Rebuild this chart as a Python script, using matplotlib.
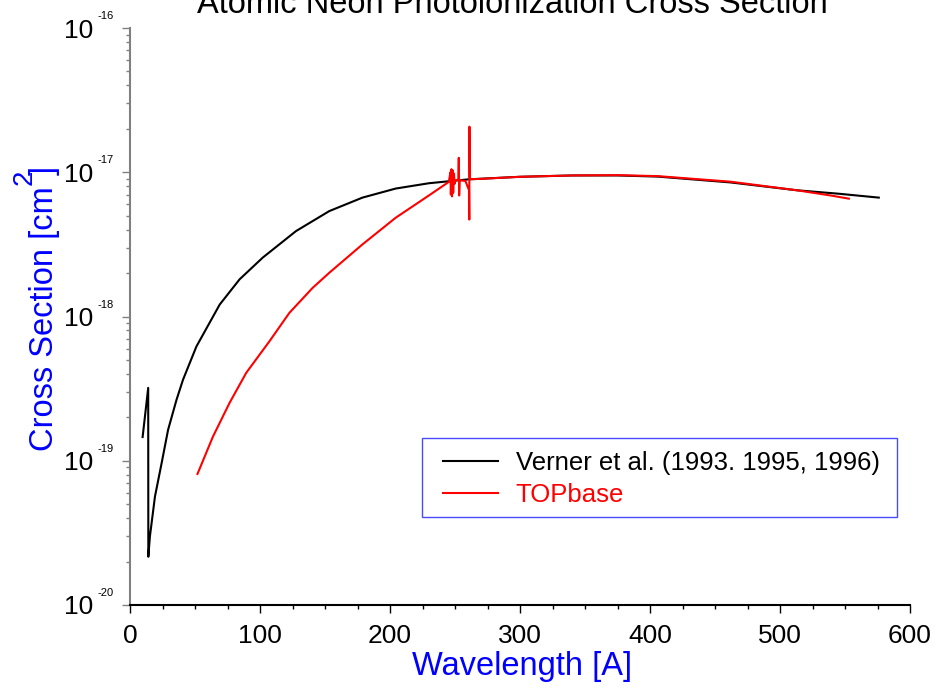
import numpy as np
import matplotlib
matplotlib.use("Agg")
import matplotlib.pyplot as plt
from matplotlib.patches import Rectangle
from matplotlib.ticker import LogLocator, MultipleLocator, NullFormatter

plt.rcParams['font.family'] = ['Liberation Sans', 'DejaVu Sans']

# Verner et al. curve (wavelength in A, cross section in cm^2)
verner_wl = [9.7, 14.0, 14.1, 15.3, 19.2, 24.3, 29.3, 35.8, 40.8, 51.1, 69.0, 84.3,
             102.1, 127.7, 153.3, 178.8, 204.4, 229.9, 245.2, 260.5, 300, 340,
             375, 406, 462, 513, 545, 576]
verner_sigma = [1.46e-19, 3.2e-19, 2.16e-20, 2.98e-20, 5.65e-20, 9.6e-20, 1.64e-19,
                2.65e-19, 3.65e-19, 6.2e-19, 1.21e-18, 1.81e-18, 2.56e-18, 3.91e-18,
                5.38e-18, 6.67e-18, 7.71e-18, 8.39e-18, 8.66e-18, 8.93e-18, 9.3e-18,
                9.5e-18, 9.5e-18, 9.33e-18, 8.5e-18, 7.5e-18, 7.1e-18, 6.67e-18]

# TOPbase curve
top_wl = [51.9, 63.8, 76.6, 89.4, 107.3, 122.6, 140.5, 153.3, 178.8, 204.4,
          229.9, 245.2, 246.5, 246.8, 247.3, 247.7, 248.2, 248.6, 249.2, 249.7,
          250.5, 252.6, 252.9, 253.2, 253.6, 258, 260.8, 261.0, 261.1, 261.4, 262,
          270, 300, 340, 375, 406, 462, 513, 539, 553]
top_sigma = [8.1e-20, 1.47e-19, 2.52e-19, 4.07e-19, 6.74e-19, 1.06e-18, 1.58e-18,
             2.01e-18, 3.16e-18, 4.84e-18, 6.9e-18, 8.57e-18, 1.0e-17,
             7.0e-18, 1.05e-17, 6.8e-18, 1.03e-17, 7.2e-18, 9.8e-18, 8.3e-18, 8.8e-18,
             8.9e-18, 1.26e-17, 6.9e-18, 8.8e-18, 8.7e-18, 7.5e-18, 4.7e-18, 2.07e-17,
             9.2e-18, 8.95e-18, 9.0e-18, 9.3e-18, 9.5e-18, 9.55e-18, 9.4e-18, 8.6e-18,
             7.5e-18, 6.9e-18, 6.56e-18]

exponents = [-20, -19, -18, -17, -16]
x_ticks = [0, 100, 200, 300, 400, 500, 600]

W, H = 942.0, 692.0
fig = plt.figure(figsize=(W / 100, H / 100), dpi=100)
ax = fig.add_axes([130 / W, 1 - 605 / H, 780 / W, 577 / H])

ax.plot(verner_wl, verner_sigma, color='black', lw=1.5,
        label='Verner et al. (1993. 1995, 1996)')
ax.plot(top_wl, top_sigma, color='red', lw=1.5, label='TOPbase')

ax.set_yscale('log')
ax.set_xlim(0, 600)
ax.set_ylim(1e-20, 1e-16)

for s in ['top', 'right']:
    ax.spines[s].set_visible(False)
ax.spines['left'].set_color('#808080')
ax.spines['left'].set_linewidth(1.5)
ax.spines['bottom'].set_linewidth(1.5)

ax.set_xticks(x_ticks)
ax.xaxis.set_minor_locator(MultipleLocator(25))
ax.tick_params(axis='x', which='major', direction='out', length=6, width=1,
               labelsize=19, pad=8)
ax.tick_params(axis='x', which='minor', direction='out', length=3, width=1)

ax.yaxis.set_major_locator(LogLocator(base=10, numticks=10))
ax.yaxis.set_minor_locator(LogLocator(base=10, subs=np.arange(2, 10), numticks=10))
ax.yaxis.set_major_formatter(NullFormatter())
ax.yaxis.set_minor_formatter(NullFormatter())
ax.tick_params(axis='y', which='major', direction='out', length=6, width=1,
               color='#808080')
ax.tick_params(axis='y', which='minor', direction='out', length=3, width=1,
               color='#808080')

# power-of-ten labels with a small raised exponent
for e in exponents:
    ax.annotate('10', xy=(0, 10.0 ** e), xycoords=('axes fraction', 'data'),
                xytext=(-37, -9.5), textcoords='offset pixels',
                ha='right', va='baseline', fontsize=19, annotation_clip=False)
    ax.annotate(str(e), xy=(0, 10.0 ** e), xycoords=('axes fraction', 'data'),
                xytext=(-33, 9), textcoords='offset pixels',
                ha='left', va='baseline', fontsize=8, annotation_clip=False)

fig.text(512 / W, 1 - 13 / H, 'Atomic Neon Photoionization Cross Section',
         ha='center', va='baseline', fontsize=23.5)
fig.text(522 / W, 1 - 675 / H, 'Wavelength [A]', ha='center', va='baseline',
         fontsize=23.5, color='blue')

# y label built from pieces so the "2" can sit high and large
fig.canvas.draw()
r = fig.canvas.get_renderer()
t1 = fig.text(53 / W, 1 - 451 / H, 'Cross Section [cm', rotation=90,
              ha='left', va='baseline', rotation_mode='anchor', fontsize=23.5,
              color='blue')
t1b = t1.get_window_extent(r)
t2 = fig.text(32 / W, (t1b.y1 + 1) / H, '2', rotation=90,
              ha='left', va='baseline', rotation_mode='anchor', fontsize=20,
              color='blue')
t2b = t2.get_window_extent(r)
fig.text(53 / W, (t2b.y1 - 5) / H, ']', rotation=90,
         ha='left', va='baseline', rotation_mode='anchor', fontsize=23.5,
         color='blue')

# legend: entries without frame, box drawn separately
leg = ax.legend(loc='upper left', bbox_to_anchor=(443 / W, 1 - 451 / H),
                bbox_transform=fig.transFigure, borderaxespad=0, borderpad=0,
                frameon=False, fontsize=18.5, handlelength=2.15,
                handletextpad=0.68, labelspacing=0.33, labelcolor='linecolor')
fig.patches.append(Rectangle((422 / W, 1 - 517 / H), 475 / W, 79 / H,
                             transform=fig.transFigure, fill=False,
                             edgecolor='#4a4aff', lw=1.0))

fig.savefig('out.png', dpi=100)
